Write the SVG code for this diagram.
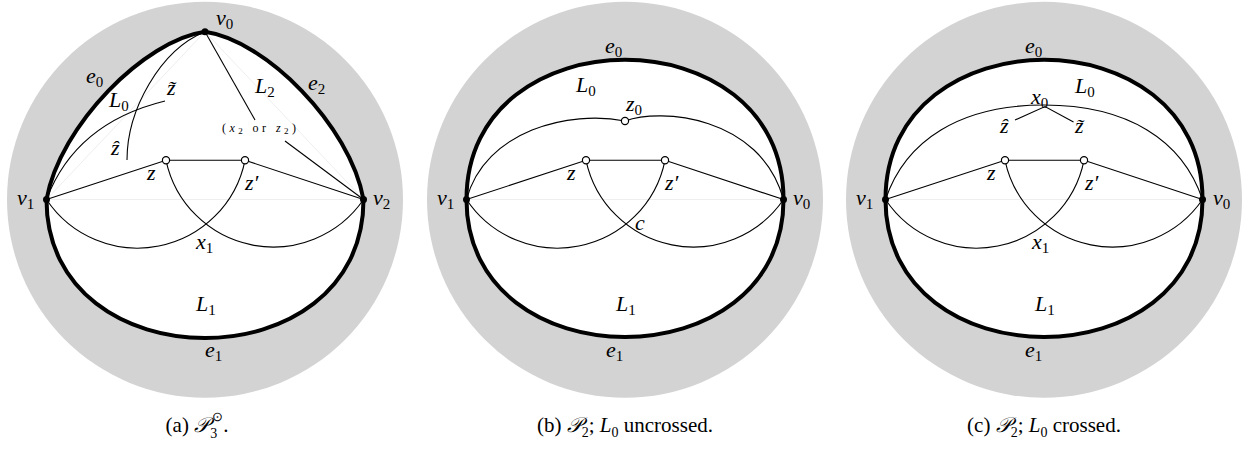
<svg xmlns="http://www.w3.org/2000/svg" width="1247" height="455" viewBox="0 0 1247 455">
<style>
.bg{fill:#d3d3d3}
.reg{fill:#fff;stroke:none}
.thick{fill:none;stroke:#000;stroke-width:4}
.thin{fill:none;stroke:#000;stroke-width:1.1}
.faint{fill:none;stroke:#eeeeee;stroke-width:1}
.m{font-family:"Liberation Serif",serif;font-style:italic;font-size:22px;fill:#000}
.s{font-style:normal;font-size:15px}
.cap{font-family:"Liberation Serif",serif;font-size:21px;fill:#000;text-anchor:middle}
.sm{font-family:"Liberation Serif",serif;font-size:12px;fill:#000}
.vd{fill:#000}
.wn{fill:#fff;stroke:#000;stroke-width:1.2}
</style>
<rect width="1247" height="455" fill="#fff"/>

<!-- Panel (a) -->
<g id="panel-a">
  <circle class="bg" cx="205" cy="199.7" r="198"/>
  <path class="reg" d="M46.5,199.5 C60,125 145,40 205,31.7 C265,40 350,125 363.5,199.5 C363.5,384.2 46.5,384.2 46.5,199.5 Z"/>
  <path class="faint" d="M46.5,199.5 L205,31.7 L363.5,199.5 Z"/>
  <g id="a-connectors">
    <path class="thin" d="M46.5,199.5 A109.6,109.6 0 0 0 245,160.3"/>
    <path class="thin" d="M166,160.3 A109.6,109.6 0 0 0 363.5,199.5"/>
    <path class="thin" d="M46.5,199.5 L166,160.3 L245,160.3 L363.5,199.5"/>
    <path class="thin" d="M205,31.7 L255,120"/>
    <path class="thin" d="M285,141 L363.5,199.5"/>
    <path class="thin" d="M205,31.7 C160,50 127,110 127,160"/>
    <path class="thin" d="M46.5,199.5 C67,145 108,115 165,101"/>
    <path class="thick" d="M46.5,199.5 C60,125 145,40 205,31.7"/>
    <path class="thick" d="M205,31.7 C265,40 350,125 363.5,199.5"/>
    <path class="thick" d="M363.5,199.5 C363.5,384.2 46.5,384.2 46.5,199.5"/>
  </g>
  <g id="a-v0"><circle class="vd" cx="205" cy="31.7" r="3.5"/><text class="m" x="216" y="25">v<tspan class="s" dy="4">0</tspan></text></g>
  <g id="a-v1"><circle class="vd" cx="46.5" cy="199.5" r="3.5"/><text class="m" x="17" y="205">v<tspan class="s" dy="4">1</tspan></text></g>
  <g id="a-v2"><circle class="vd" cx="363.5" cy="199.5" r="3.5"/><text class="m" x="373" y="205">v<tspan class="s" dy="4">2</tspan></text></g>
  <g id="a-z"><circle class="wn" cx="166" cy="160.3" r="3.6"/><text class="m" x="147" y="180">z</text></g>
  <g id="a-zp"><circle class="wn" cx="245" cy="160.3" r="3.6"/><text class="m" x="245" y="190">z′</text></g>
  <text class="m" x="86" y="83">e<tspan class="s" dy="4">0</tspan></text>
  <text class="m" x="308" y="90">e<tspan class="s" dy="4">2</tspan></text>
  <text class="m" x="109" y="107">L<tspan class="s" dy="4">0</tspan></text>
  <text class="m" x="255" y="93">L<tspan class="s" dy="4">2</tspan></text>
  <text class="m" x="167" y="95">z̃</text>
  <text class="m" x="111" y="155">ẑ</text>
  <text class="m" x="196" y="249">x<tspan class="s" dy="4">1</tspan></text>
  <text class="m" x="196" y="311">L<tspan class="s" dy="4">1</tspan></text>
  <text class="m" x="205" y="357">e<tspan class="s" dy="4">1</tspan></text>
  <text class="sm" x="222" y="132" textLength="74" lengthAdjust="spacing">(<tspan font-style="italic">x</tspan><tspan font-size="9" dy="2">2</tspan><tspan dy="-2"> or </tspan><tspan font-style="italic">z</tspan><tspan font-size="9" dy="2">2</tspan><tspan dy="-2">)</tspan></text>
</g>

<!-- Panel (b) -->
<g id="panel-b" transform="translate(420,0)">
  <circle class="bg" cx="205" cy="199.7" r="198"/>
  <path class="reg" d="M46.5,199.5 C46.5,13.3 363.5,13.3 363.5,199.5 C363.5,382.7 46.5,382.7 46.5,199.5 Z"/>
  <path class="faint" d="M46.5,199.5 L363.5,199.5"/>
  <g id="b-connectors">
    <path class="thin" d="M46.5,199.5 A109.6,109.6 0 0 0 245,160.3"/>
    <path class="thin" d="M166,160.3 A109.6,109.6 0 0 0 363.5,199.5"/>
    <path class="thin" d="M46.5,199.5 L166,160.3 L245,160.3 L363.5,199.5"/>
    <path class="thin" d="M46.5,199.5 C65,130 150,110 205,121"/>
    <path class="thin" d="M205,121 C240,108 340,115 363.5,199.5"/>
    <path class="thick" d="M46.5,199.5 C46.5,13.3 363.5,13.3 363.5,199.5"/>
    <path class="thick" d="M363.5,199.5 C363.5,382.7 46.5,382.7 46.5,199.5"/>
  </g>
  <g id="b-v1"><circle class="vd" cx="46.5" cy="199.5" r="3.5"/><text class="m" x="17" y="205">v<tspan class="s" dy="4">1</tspan></text></g>
  <g id="b-v0"><circle class="vd" cx="363.5" cy="199.5" r="3.5"/><text class="m" x="373" y="205">v<tspan class="s" dy="4">0</tspan></text></g>
  <g id="b-z0"><circle class="wn" cx="205" cy="121" r="3.6"/><text class="m" x="206" y="111">z<tspan class="s" dy="4">0</tspan></text></g>
  <g id="b-z"><circle class="wn" cx="166" cy="160.3" r="3.6"/><text class="m" x="147" y="180">z</text></g>
  <g id="b-zp"><circle class="wn" cx="245" cy="160.3" r="3.6"/><text class="m" x="245" y="190">z′</text></g>
  <text class="m" x="185" y="53">e<tspan class="s" dy="4">0</tspan></text>
  <text class="m" x="156" y="92">L<tspan class="s" dy="4">0</tspan></text>
  <text class="m" x="215" y="230">c</text>
  <text class="m" x="196" y="311">L<tspan class="s" dy="4">1</tspan></text>
  <text class="m" x="186" y="357">e<tspan class="s" dy="4">1</tspan></text>
</g>

<!-- Panel (c) -->
<g id="panel-c" transform="translate(839,0)">
  <circle class="bg" cx="205" cy="199.7" r="198"/>
  <path class="reg" d="M46.5,199.5 C46.5,13.3 363.5,13.3 363.5,199.5 C363.5,382.7 46.5,382.7 46.5,199.5 Z"/>
  <path class="faint" d="M46.5,199.5 L363.5,199.5"/>
  <g id="c-connectors">
    <path class="thin" d="M46.5,199.5 A109.6,109.6 0 0 0 245,160.3"/>
    <path class="thin" d="M166,160.3 A109.6,109.6 0 0 0 363.5,199.5"/>
    <path class="thin" d="M46.5,199.5 L166,160.3 L245,160.3 L363.5,199.5"/>
    <path class="thin" d="M46.5,199.5 C66.5,140 121.5,105 205,105 C288.5,105 343.5,140 363.5,199.5"/>
    <path class="thin" d="M176,120 L206,106.5 L234.5,122"/>
    <path class="thick" d="M46.5,199.5 C46.5,13.3 363.5,13.3 363.5,199.5"/>
    <path class="thick" d="M363.5,199.5 C363.5,382.7 46.5,382.7 46.5,199.5"/>
  </g>
  <g id="c-v1"><circle class="vd" cx="46.5" cy="199.5" r="3.5"/><text class="m" x="17" y="205">v<tspan class="s" dy="4">1</tspan></text></g>
  <g id="c-v0"><circle class="vd" cx="363.5" cy="199.5" r="3.5"/><text class="m" x="374" y="205">v<tspan class="s" dy="4">0</tspan></text></g>
  <g id="c-z"><circle class="wn" cx="166" cy="160.3" r="3.6"/><text class="m" x="148" y="180">z</text></g>
  <g id="c-zp"><circle class="wn" cx="245" cy="160.3" r="3.6"/><text class="m" x="246" y="190">z′</text></g>
  <text class="m" x="186" y="53">e<tspan class="s" dy="4">0</tspan></text>
  <text class="m" x="236" y="93">L<tspan class="s" dy="4">0</tspan></text>
  <text class="m" x="192" y="104">x<tspan class="s" dy="4">0</tspan></text>
  <text class="m" x="161" y="133">ẑ</text>
  <text class="m" x="236" y="133">z̃</text>
  <text class="m" x="193" y="249">x<tspan class="s" dy="4">1</tspan></text>
  <text class="m" x="196" y="311">L<tspan class="s" dy="4">1</tspan></text>
  <text class="m" x="186" y="357">e<tspan class="s" dy="4">1</tspan></text>
</g>

<!-- Captions -->
<g id="captions">
  <text class="cap" x="197" y="432">(a) <tspan font-family="'DejaVu Serif','DejaVu Sans',serif" font-style="italic">𝒫</tspan><tspan font-size="14" dx="1" dy="6">3</tspan><tspan font-size="13" dx="-5" dy="-17">⊙</tspan><tspan dy="11">.</tspan></text>
  <text class="cap" x="625" y="432">(b) <tspan font-family="'DejaVu Serif','DejaVu Sans',serif" font-style="italic">𝒫</tspan><tspan font-size="14" dy="5">2</tspan><tspan dy="-5">; </tspan><tspan font-style="italic">L</tspan><tspan font-size="14" dy="5">0</tspan><tspan dy="-5"> uncrossed.</tspan></text>
  <text class="cap" x="1044" y="432">(c) <tspan font-family="'DejaVu Serif','DejaVu Sans',serif" font-style="italic">𝒫</tspan><tspan font-size="14" dy="5">2</tspan><tspan dy="-5">; </tspan><tspan font-style="italic">L</tspan><tspan font-size="14" dy="5">0</tspan><tspan dy="-5"> crossed.</tspan></text>
</g>
</svg>
